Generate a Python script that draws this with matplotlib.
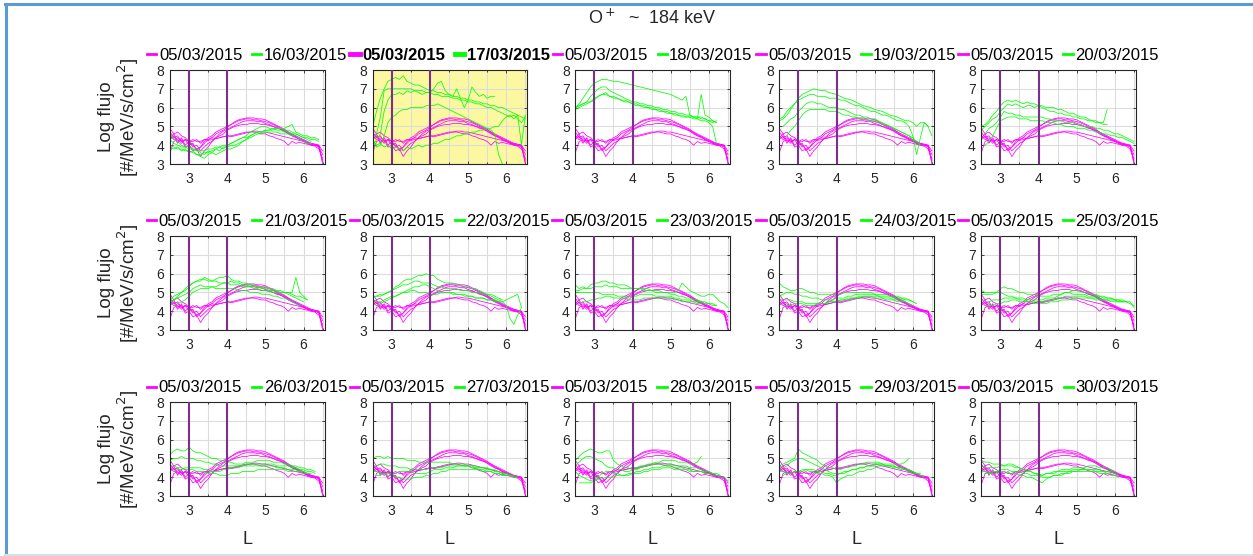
"""
Flujo de O+ (~184 keV) vs L: día de referencia 05/03/2015 frente a cada día de la tormenta.
"""
import numpy as np
import matplotlib
matplotlib.use("Agg")
import matplotlib.pyplot as plt
from matplotlib.lines import Line2D
from matplotlib.ticker import MultipleLocator

plt.rcParams["font.family"] = ["Liberation Sans", "DejaVu Sans"]

# ── datos ─────────────────────────────────────────────────────────────────────

# malla en L (paso 0.1) sobre la que están muestreadas las pasadas
L_GRID = np.round(np.arange(2.5, 6.55, 0.1), 1)

REF_DATE = "05/03/2015"
STORM_DATES = ["16/03/2015", "17/03/2015", "18/03/2015", "19/03/2015", "20/03/2015",
               "21/03/2015", "22/03/2015", "23/03/2015", "24/03/2015", "25/03/2015",
               "26/03/2015", "27/03/2015", "28/03/2015", "29/03/2015", "30/03/2015"]
HIGHLIGHT = 1  # panel resaltado (17/03)

# log flujo del día de referencia (se repite en todos los paneles)
REF_FLUX = [
    [4.7, 4.4, 4.5, 4.2, 4.3, 4.0, 4.1, 3.7, 3.9, 4.1, 4.3, 4.4, 4.6, 4.7, 4.8, 4.95, 5.1, 5.25, 5.35, 5.4,
     5.45, 5.45, 5.45, 5.4, 5.4, 5.35, 5.25, 5.15, 5.05, 4.95, 4.85, 4.7, 4.55, 4.45, 4.35, 4.25, 4.15, 4.05, 4.0, 4.0, 3.0],
    [4.4, 4.6, 4.2, 4.3, 3.9, 4.0, 3.7, 3.8, 3.4, 3.7, 3.9, 4.2, 4.4, 4.6, 4.75, 4.85, 4.95, 5.05, 5.15, 5.25,
     5.3, 5.3, 5.3, 5.25, 5.25, 5.15, 5.1, 5.0, 4.95, 4.85, 4.75, 4.6, 4.5, 4.4, 4.3, 4.2, 4.1, 4.0, 4.0, 3.9, 3.2],
    [4.3, 4.5, 4.1, 4.4, 4.0, 4.2, 3.9, 4.0, 3.7, 3.9, 4.1, 4.2, 4.4, 4.5, 4.6, 4.8, 4.9, 5.0, 5.05, 5.1,
     5.1, 5.15, 5.15, 5.15, 5.1, 5.1, 5.05, 5.0, 4.9, 4.85, 4.75, 4.65, 4.5, 4.45, 4.3, 4.25, 4.1, 4.05, 4.0, 3.95, 3.5],
    [4.5, 4.3, 4.4, 4.2, 4.3, 4.2, 4.3, 4.2, 4.2, 4.3, 4.25, 4.3, 4.35, 4.4, 4.45, 4.5, 4.5, 4.55, 4.6, 4.65,
     4.7, 4.7, 4.75, 4.75, 4.7, 4.7, 4.65, 4.6, 4.55, 4.5, 4.45, 4.4, 4.35, 4.3, 4.25, 4.2, 4.15, 4.1, 4.05, 4.0, 3.7],
    [3.6, 4.2, 4.3, 4.1, 4.3, 4.2, 4.2, 4.3, 4.1, 4.3, 4.3, 4.4, 4.35, 4.4, 4.45, 4.5, 4.45, 4.5, 4.55, 4.6,
     4.65, 4.7, 4.7, 4.65, 4.6, 4.6, 4.5, 4.45, 4.35, 4.3, 4.2, 4.0, 4.2, 4.1, 4.15, 4.1, 4.05, 4.0, 3.95, 3.8, 3.3],
    [4.9, 4.6, 4.7, 4.5, 4.4, 4.2, 4.0, 3.8, 3.9, 4.2, 4.4, 4.5, 4.7, 4.8, 4.9, 5.0, 5.1, 5.2, 5.3, 5.35,
     5.4, 5.4, 5.35, 5.35, 5.3, 5.25, 5.2, 5.1, 5.0, 4.9, 4.8, 4.7, 4.6, 4.5, 4.4, 4.3, 4.2, 4.1, 4.05, 4.0, 3.1],
]

# log flujo de cada día de tormenta (None = sin dato)
FLUX_16 = [
    [4.6, 4.3, 4.2, 4.0, 3.9, 4.0, 3.8, 3.8, 3.6, 3.5, 3.7, 3.6, 3.8, 3.9, 3.8, 4.0, 4.1, 4.2, 4.3, 4.4,
     4.5, 4.7, 4.8, 4.9, 5.0, 5.0, 4.9, 4.9, 4.8, 4.8, 4.7, 4.7, 4.6, 4.6, 4.5, 4.4, 4.4, 4.3, 4.3, 4.2],
    [3.9, 3.8, 3.9, 3.7, 3.8, 3.6, 3.7, 3.5, 3.5, 3.6, 3.6, 3.7, 3.8, 3.7, 3.9, 3.9, 4.0, 4.0, 4.1, 4.2,
     4.3, 4.5, 4.6, 4.7, 4.7, 4.8, 4.8, 4.8, 4.9, 4.9, 4.9, 5.0, 5.1, 4.7, 4.6, 4.5, 4.5, 4.4, 4.4, 4.3],
    [4.0, 3.9, 3.8, 3.8, 3.7, 3.7, 3.6, 3.5, 3.4, 3.3, 3.5, 3.6, 3.5, 3.6, 3.7, 3.8, 3.8, 3.9, 4.0, 4.2,
     4.3, 4.4, 4.5, 4.6, 4.6, 4.7, 4.7, 4.7, 4.7, 4.6, 4.6, 4.6, 4.5, 4.5, 4.3, 4.2, 4.1, 4.1],
    [4.3, 4.1, 4.0, 3.9, 3.9, 3.8, 3.8, 3.7, 3.7, 3.7, 3.8, 3.8, 3.9, 3.9, 4.0, 4.0, 4.1, 4.2, 4.3, 4.4,
     4.4, 4.5, 4.6, 4.7, 4.7, 4.8, 4.8, 4.9, 4.9, 4.9, 4.8, 4.8, 4.7, 4.6, 4.5, 4.4, 4.3, 4.2],
]
FLUX_17 = [
    [5.0, 5.8, 6.5, 7.0, 7.4, 7.5, 7.6, 7.5, 7.7, 7.4, 7.3, 7.2, 7.2, 7.1, 7.0, 6.9, 6.9, 6.8, 6.8, 6.7,
     6.7, 6.6, 6.6, 6.5, 6.5, 6.4, 6.4, 6.3, 6.3, 6.2, 6.2, 6.1, 6.1, 6.0, 6.0, 5.9, 5.8, 5.7, 5.6, 5.5, 5.4],
    [4.5, 4.6, 5.5, 6.9, 7.0, 7.0, 7.0, 7.0, 7.0, 7.0, 7.0, 6.9, 6.9, 6.9, 6.8, 6.8, 6.7, 6.7, 6.6, 6.6,
     6.6, 6.5, 6.5, 6.4, 6.4, 6.3, 6.3, 6.2, 6.2, 6.1, 6.0, 6.0, 5.9, 5.8, 5.7, 5.6, 5.5, 5.6, 5.4, 5.2, 5.5],
    [4.0, 4.3, 4.6, 5.8, 6.4, 6.7, 6.7, 6.8, 6.7, 6.9, 6.8, 6.9, 6.8, 6.7, 6.8, 6.8, 7.0, 7.3, 7.4, 6.9,
     6.7, 6.6, 7.0, 6.5, 6.0, 6.4, 7.1, 6.8, 6.6, 6.7, 6.5, 6.6, 6.6],
    [4.2, 3.9, 4.0, 4.5, 5.2, 5.5, 5.6, 5.8, 5.9, 5.9, 6.0, 6.0, 6.0, 6.0, 6.1, 6.1, 6.1, 6.2, 6.1, 6.0,
     5.9, 5.8, 5.7, 5.6, 5.5, 5.4, 5.3, 5.2, 5.1, 5.0, 4.9, 4.8, 4.6, 3.5, 3.0],
    [4.3, 4.0, 4.1, 3.9, 4.0, 3.8, 3.9, 3.8, 3.7, 3.9, 3.8, 3.9, 4.0, 3.9, 4.0, 4.0, 4.1, 4.1, 4.2, 4.3,
     4.3, 4.4, 4.5, 4.5, 4.6, 4.6, 4.7, 4.7, 4.8, 4.8, 4.9, 4.9, 5.0, 5.0, 5.3, 5.5, 5.6, 5.4, 5.6, 4.0, 5.6],
]
FLUX_18 = [
    [6.0, 6.2, 6.5, 6.8, 7.1, 7.3, 7.4, 7.5, 7.5, 7.45, 7.4, 7.4, 7.35, 7.3, 7.25, 7.2, 7.15, 7.1, 7.05, 7.0,
     6.95, 6.9, 6.85, 6.8, 6.75, 6.7, 6.6, 6.5, 6.4, 6.6, 5.6, 5.5, 5.5, 5.4, 5.4, 5.3, 5.2, 5.3],
    [6.0, 6.1, 6.2, 6.3, 6.6, 6.8, 7.0, 7.1, 7.1, 6.9, 6.8, 6.7, 6.6, 6.5, 6.4, 6.3, 6.3, 6.2, 6.2, 6.1,
     6.1, 6.0, 6.0, 5.9, 5.9, 5.8, 5.8, 5.7, 5.7, 5.6, 5.6, 5.5, 5.5, 5.5, 5.4, 5.3, 5.3, 5.2],
    [6.0, 6.1, 6.2, 6.3, 6.3, 6.4, 6.6, 6.7, 6.7, 6.6, 6.6, 6.5, 6.4, 6.4, 6.3, 6.2, 6.2, 6.1, 6.1, 6.0,
     6.0, 5.9, 5.9, 5.8, 5.8, 5.7, 5.7, 5.6, 5.6, 5.5, 5.5, 5.5, 5.4, 5.3, 5.3, 5.2, 5.0, 4.1],
    [5.9, 6.0, 6.1, 6.2, 6.3, 6.5, 6.6, 6.7, 6.8, 6.6, 6.5, 6.5, 6.4, 6.3, 6.3, 6.2, 6.1, 6.1, 6.0, 6.0,
     5.9, 5.9, 5.8, 5.8, 5.7, 5.7, 5.6, 5.6, 5.5, 5.5, 5.5, 5.4, 5.4, 6.7, 5.6, 5.5, 5.3, 5.2],
]
FLUX_19 = [
    [5.3, 5.4, 5.6, 5.9, 6.2, 6.5, 6.7, 6.8, 6.9, 7.0, 6.95, 6.9, 6.9, 6.8, 6.75, 6.7, 6.6, 6.5, 6.45, 6.4,
     6.3, 6.2, 6.1, 6.05, 6.0, 5.9, 5.85, 5.8, 5.7, 5.6, 5.55, 5.5, 5.4, 5.3, 5.3, 5.2, 5.0, 5.2, 5.2, 5.0, 4.5],
    [5.4, 5.5, 5.8, 6.0, 6.2, 6.4, 6.5, 6.6, 6.7, 6.7, 6.6, 6.6, 6.6, 6.5, 6.5, 6.5, 6.4, 6.4, 6.3, 6.2,
     6.1, 6.1, 6.0, 5.9, 5.8, 5.8, 5.7, 5.6, 5.6, 5.5, 5.4, 5.3, 5.3, 5.2, 5.0, 4.5, 3.5, 4.4, 5.2, 5.0],
    [None, 5.0, 5.2, 5.4, 5.5, 5.8, 6.0, 6.2, 6.3, 6.3, 6.2, 6.2, 6.1, 6.0, 6.0, 6.0, 5.9, 5.9, 5.8, 5.7,
     5.6, 5.6, 5.5, 5.5, 5.4, 5.4, 5.3, 5.2, 5.1, 5.0, 4.9, 4.8, 4.7, 4.6, 4.5, 4.4, 4.2, 4.0],
    [None, None, 4.5, 4.8, 5.0, 5.3, 5.6, 5.8, 5.9, 5.9, 5.9, 5.9, 5.9, 5.8, 5.8, 5.8, 5.7, 5.6, 5.6, 5.5,
     5.5, 5.4, 5.4, 5.3, 5.3, 5.3, 5.2, 5.1, 5.1, 5.0, 4.9, 4.8, 4.7, 4.6, 4.5, 4.3, 4.2],
]
FLUX_20 = [
    [5.0, 5.1, 5.3, 5.6, 5.8, 6.1, 6.3, 6.4, 6.3, 6.4, 6.3, 6.2, 6.3, 6.2, 6.2, 6.1, 6.1, 6.0, 6.0, 6.0,
     5.9, 5.9, 5.8, 5.7, 5.7, 5.6, 5.5, 5.5, 5.4, 5.3, 5.3, 5.2, 5.2, 5.9],
    [4.8, 5.0, 5.2, 5.4, 5.5, 5.8, 6.0, 6.2, 6.1, 6.2, 6.1, 6.0, 6.1, 6.1, 6.0, 6.1, 6.0, 5.9, 5.8, 5.8,
     5.7, 5.7, 5.6, 5.6, 5.5, 5.5, 5.4, 5.4, 5.3, 5.3, 5.2, 5.2, 5.1, 5.1],
    [None, 4.6, 4.9, 5.0, 5.2, 5.5, 5.8, 5.7, 5.7, 5.6, 5.6, 5.5, 5.5, 5.5, 5.5, 5.5, 5.5, 5.4, 5.4, 5.3,
     5.3, 5.3, 5.2, 5.2, 5.2, 5.1, 5.1, 5.0, 5.0, 5.0, 4.9, 4.9, 4.8, 4.8, 4.7, 4.6, 4.6, 4.5, 4.4, 4.3, 4.2],
    [None, 4.0, 4.2, 4.5, 4.9, 5.3, 5.4, 5.5, 5.5, 5.5, 5.4, 5.4, 5.4, 5.3, 5.3, 5.3, 5.3, 5.2, 5.2, 5.2,
     5.1, 5.1, 5.0, 5.0, 5.0, 4.9, 4.9, 4.9, 4.8, 4.8, 4.7, 4.7, 4.6, 4.6, 4.5, 4.5, 4.4, 4.4, 4.3, 4.2, 4.1],
]
FLUX_21 = [
    [4.5, 4.6, 4.8, 5.0, 5.1, 5.3, 5.5, 5.6, 5.6, 5.8, 5.7, 5.6, 5.7, 5.8, 5.8, 5.9, 5.7, 5.6, 5.6, 5.5,
     5.5, 5.4, 5.4, 5.3, 5.3, 5.3, 5.2, 5.2, 5.1, 5.1, 5.0, 5.0, 5.0, 5.8, 5.0, 4.8, 4.6],
    [4.6, 4.8, 4.9, 5.0, 5.2, 5.4, 5.5, 5.6, 5.7, 5.7, 5.6, 5.6, 5.6, 5.5, 5.5, 5.5, 5.4, 5.4, 5.4, 5.3,
     5.3, 5.3, 5.2, 5.2, 5.1, 5.1, 5.1, 5.0, 5.0, 5.0, 5.0, 4.9, 4.8, 4.7, 4.6, 4.5],
    [4.4, 4.6, 4.7, 4.8, 4.9, 5.0, 5.2, 5.3, 5.4, 5.3, 5.3, 5.3, 5.2, 5.2, 5.2, 5.2, 5.2, 5.2, 5.1, 5.1,
     5.1, 5.0, 5.0, 5.0, 4.9, 4.9, 4.9, 4.8, 4.8, 4.7, 4.7, 4.6, 4.5, 4.4, 4.3],
    [None, 4.3, 4.4, 4.5, 4.6, 4.8, 5.0, 5.1, 5.2, 5.2, 5.2, 5.3, 5.3, 5.4, 5.5, 5.5, 5.6, 5.5, 5.5, 5.4,
     5.4, 5.3, 5.3, 5.3, 5.2, 5.2, 5.1, 5.1, 5.1, 5.0, 5.0, 5.0, 4.9, 4.8, 4.8, 4.7, 4.6],
]
FLUX_22 = [
    [4.8, 4.8, 4.8, 4.9, 5.0, 5.1, 5.3, 5.4, 5.6, 5.7, 5.7, 5.8, 5.9, 5.9, 6.0, 5.9, 5.9, 5.7, 5.6, 5.5,
     5.5, 5.5, 5.4, 5.4, 5.3, 5.3, 5.2, 5.2, 5.1, 5.0, 4.9, 4.9, 4.8, 4.7, 4.6],
    [4.7, 4.8, 4.9, 4.9, 5.0, 5.1, 5.2, 5.3, 5.4, 5.4, 5.5, 5.6, 5.6, 5.5, 5.5, 5.5, 5.4, 5.3, 5.3, 5.2,
     5.2, 5.2, 5.2, 5.1, 5.1, 5.1, 5.0, 5.0, 5.0, 4.9, 4.9, 4.8, 4.7, 4.6, 4.5, 4.3, 3.6, 3.3, 3.8, 4.2],
    [4.5, 4.5, 4.5, 4.6, 4.7, 4.8, 4.8, 4.9, 5.0, 5.0, 5.1, 5.1, 5.0, 5.0, 5.0, 4.9, 4.9, 4.9, 5.0, 5.0,
     5.0, 5.0, 4.9, 4.9, 4.9, 4.8, 4.8, 4.7, 4.7, 4.7, 4.6, 4.6, 4.6, 4.5, 4.5, 4.6, 4.7, 4.8, 4.9, 4.2],
    [None, 4.3, 4.4, 4.5, 4.6, 4.7, 4.8, 4.9, 5.0, 5.1, 5.2, 5.3, 5.3, 5.4, 5.4, 5.3, 5.2, 5.1, 5.0, 5.0,
     5.0, 4.9, 4.9, 4.9, 4.8, 4.8, 4.8, 4.7, 4.7, 4.7, 4.6, 4.6, 4.5, 4.5],
]
FLUX_23 = [
    [5.4, 5.2, 5.3, 5.2, 5.4, 5.5, 5.5, 5.6, 5.6, 5.5, 5.5, 5.4, 5.4, 5.4, 5.3, 5.2, 5.2, 5.2, 5.2, 5.2,
     5.1, 5.1, 5.1, 5.0, 5.0, 5.0, 5.0, 5.1, 5.5, 5.3, 5.1, 5.0, 4.9, 4.8, 4.8, 4.9, 4.9, 4.7, 4.5, 4.4, 4.2],
    [5.1, 5.1, 5.2, 5.2, 5.2, 5.3, 5.3, 5.3, 5.4, 5.3, 5.3, 5.3, 5.2, 5.2, 5.2, 5.2, 5.2, 5.2, 5.1, 5.1,
     5.1, 5.0, 5.0, 5.0, 5.0, 4.9, 4.9, 4.8, 4.8, 4.7, 4.7, 4.6, 4.6, 4.5, 4.5, 4.4, 4.4, 4.3],
    [5.0, 5.0, 5.0, 5.0, 5.0, 5.0, 5.0, 4.9, 4.9, 4.9, 4.9, 4.8, 4.8, 4.8, 4.8, 4.8, 4.8, 4.9, 4.9, 4.9,
     4.9, 4.8, 4.8, 4.8, 4.8, 4.8, 4.7, 4.7, 4.6, 4.6, 4.6, 4.5, 4.5, 4.5, 4.4, 4.4, 4.3, 4.3],
    [None, 4.4, 4.5, 4.5, 4.6, 4.6, 4.7, 4.7, 4.8, 4.8, 4.7, 4.7, 4.7, 4.7, 4.6, 4.6, 4.6, 4.6, 4.7, 4.7,
     4.7, 4.7, 4.7, 4.7, 4.7, 4.7, 4.6, 4.6, 4.5, 4.5, 4.5, 4.5, 4.4, 4.4],
]
FLUX_24 = [
    [5.5, 5.3, 5.2, 5.1, 5.1, 5.2, 5.2, 5.1, 5.0, 5.0, 4.9, 4.9, 4.9, 4.9, 4.9, 4.9, 4.9, 5.0, 5.0, 5.0,
     5.0, 5.0, 5.0, 5.0, 5.0, 4.9, 4.9, 4.9, 4.9, 4.8, 4.8, 4.8, 4.7, 4.7, 4.6, 4.5, 4.4],
    [4.8, 4.9, 5.0, 5.0, 4.9, 4.9, 4.8, 4.8, 4.7, 4.7, 4.7, 4.6, 4.6, 4.6, 4.6, 4.7, 4.7, 4.7, 4.8, 4.8,
     4.9, 4.9, 4.9, 4.9, 4.9, 4.9, 4.8, 4.8, 4.8, 4.8, 4.7, 4.7, 4.7, 4.6, 4.6, 4.5],
    [4.6, 4.6, 4.6, 4.6, 4.5, 4.5, 4.5, 4.4, 4.4, 4.4, 4.4, 4.4, 4.4, 4.5, 4.5, 4.5, 4.6, 4.6, 4.7, 4.7,
     4.7, 4.8, 4.8, 4.8, 4.8, 4.7, 4.7, 4.7, 4.6, 4.6, 4.6, 4.5, 4.5, 4.5, 4.4, 4.3],
    [None, 4.2, 4.3, 4.3, 4.4, 4.4, 4.4, 4.3, 4.3, 4.3, 4.4, 4.4, 4.4, 4.5, 4.5, 4.5, 4.6, 4.6, 4.6, 4.7,
     4.7, 4.7, 4.8, 4.8, 4.8, 4.8, 4.8, 4.7, 4.7, 4.7, 4.6, 4.6, 4.6, 4.6],
]
FLUX_25 = [
    [5.1, 5.0, 5.0, 5.0, 5.0, 5.2, 5.3, 5.2, 5.2, 5.1, 5.0, 5.0, 4.9, 4.9, 4.9, 4.8, 4.8, 4.8, 4.8, 4.9,
     4.9, 4.9, 5.0, 5.0, 4.9, 4.9, 4.9, 4.9, 4.8, 4.8, 4.8, 4.8, 4.7, 4.7, 4.7, 4.6, 4.6, 4.6, 4.5, 4.5, 4.2],
    [4.9, 4.9, 4.9, 4.9, 5.0, 5.0, 4.9, 4.8, 4.8, 4.7, 4.6, 4.6, 4.5, 4.5, 4.5, 4.5, 4.5, 4.6, 4.6, 4.6,
     4.7, 4.7, 4.8, 4.8, 4.8, 4.8, 4.8, 4.8, 4.7, 4.7, 4.7, 4.7, 4.6, 4.6, 4.6, 4.6, 4.5, 4.5, 4.5, 4.4, 4.3],
    [None, 4.5, 4.5, 4.6, 4.6, 4.6, 4.7, 4.7, 4.7, 4.7, 4.7, 4.7, 4.6, 4.6, 4.6, 4.6, 4.6, 4.7, 4.7, 4.7,
     4.8, 4.9, 5.0, 5.0, 5.1, 5.1, 5.1, 5.0, 5.0, 4.9, 4.9, 4.8, 4.8, 4.7, 4.7, 4.6, 4.6, 4.5, 4.5],
    [None, 4.2, 4.3, 4.3, 4.4, 4.4, 4.5, 4.5, 4.6, 4.6, 4.5, 4.5, 4.5, 4.5, 4.4, 4.4, 4.4, 4.4, 4.5, 4.5,
     4.5, 4.6, 4.6, 4.6, 4.7, 4.7, 4.7, 4.7, 4.7, 4.7, 4.6, 4.6, 4.6, 4.6, 4.5, 4.5, 4.5, 4.5],
]
FLUX_26 = [
    [5.2, 5.4, 5.5, 5.4, 5.4, 5.6, 5.4, 5.3, 5.3, 5.2, 5.1, 5.0, 5.0, 4.9, 4.9, 4.8, 4.8, 4.7, 4.7, 4.7,
     4.8, 4.8, 4.8, 4.9, 4.9, 4.9, 4.9, 4.8, 4.8, 4.8, 4.7, 4.7, 4.6, 4.6, 4.5, 4.5, 4.4, 4.4, 4.3],
    [4.9, 5.0, 5.0, 5.1, 5.0, 5.0, 5.0, 4.9, 4.9, 4.8, 4.8, 4.7, 4.7, 4.6, 4.6, 4.6, 4.6, 4.6, 4.6, 4.6,
     4.7, 4.7, 4.7, 4.7, 4.7, 4.7, 4.7, 4.7, 4.6, 4.6, 4.6, 4.6, 4.5, 4.5, 4.4, 4.4, 4.3, 4.3, 4.2],
    [4.6, 4.6, 4.5, 4.5, 4.4, 4.4, 4.4, 4.3, 4.3, 4.3, 4.2, 4.2, 4.2, 4.1, 4.1, 4.1, 4.2, 4.2, 4.2, 4.3,
     4.3, 4.3, 4.3, 4.4, 4.4, 4.4, 4.4, 4.4, 4.4, 4.4, 4.4, 4.3, 4.3, 4.3, 4.3, 4.2, 4.2, 4.2],
    [None, 4.3, 4.4, 4.4, 4.5, 4.5, 4.5, 4.5, 4.5, 4.4, 4.4, 4.3, 4.3, 4.3, 4.4, 4.4, 4.5, 4.5, 4.5, 4.6,
     4.6, 4.6, 4.6, 4.6, 4.6, 4.6, 4.6, 4.6, 4.5, 4.5, 4.5, 4.4, 4.4, 4.4, 4.3, 4.3, 4.2],
]
FLUX_27 = [
    [5.0, 5.1, 5.1, 5.0, 5.1, 5.0, 5.0, 5.0, 5.0, 4.9, 4.9, 4.9, 4.8, 4.8, 4.8, 4.8, 4.8, 4.8, 4.8, 4.8,
     4.8, 4.7, 4.7, 4.7, 4.7, 4.6, 4.6, 4.6, 4.5, 4.5, 4.5, 4.4, 4.4, 4.3, 4.2, 4.2, 4.1, 4.1],
    [4.6, 4.6, 4.7, 4.7, 4.6, 4.6, 4.6, 4.5, 4.5, 4.5, 4.4, 4.4, 4.4, 4.4, 4.4, 4.5, 4.5, 4.5, 4.5, 4.6,
     4.6, 4.6, 4.6, 4.6, 4.6, 4.6, 4.6, 4.5, 4.5, 4.5, 4.4, 4.4, 4.3, 4.3, 4.2, 4.1, 4.1, 4.0, 4.0],
    [4.3, 4.3, 4.2, 4.2, 4.1, 4.1, 4.0, 4.0, 3.9, 3.9, 3.9, 4.0, 4.0, 4.0, 4.1, 4.1, 4.2, 4.2, 4.3, 4.3,
     4.4, 4.4, 4.4, 4.4, 4.4, 4.4, 4.4, 4.4, 4.4, 4.3, 4.3, 4.3, 4.2, 4.2, 4.1, 4.1, 4.1, 4.0, 4.0],
    [None, 4.1, 4.1, 4.2, 4.2, 4.2, 4.2, 4.3, 4.3, 4.3, 4.3, 4.2, 4.2, 4.2, 4.2, 4.3, 4.4, 4.4, 4.4, 4.5,
     4.5, 4.5, 4.6, 4.6, 4.6, 4.6, 4.5, 4.5, 4.4, 4.4, 4.3, 4.3, 4.2, 4.2, 4.1, 4.1],
]
FLUX_28 = [
    [4.9, 5.1, 5.3, 5.4, 5.5, 5.4, 5.3, 5.3, 5.4, 5.4, 4.9, 4.7, 4.6, 4.5, 4.5, 4.4, 4.5, 4.6, 4.6, 4.7,
     4.7, 4.8, 4.8, 4.9, 4.9, 4.9, 4.9, 4.8, 4.8, 4.8, 4.7, 4.7, 4.8, 5.1],
    [4.6, 4.8, 5.0, 5.1, 5.1, 5.0, 4.9, 4.8, 4.6, 4.5, 4.5, 4.4, 4.4, 4.3, 4.3, 4.4, 4.4, 4.5, 4.6, 4.6,
     4.7, 4.7, 4.7, 4.7, 4.7, 4.7, 4.6, 4.6, 4.6, 4.6, 4.5, 4.5, 4.5, 4.4, 4.3, 4.3, 4.2, 4.2, 4.1],
    [4.3, 4.1, 4.0, 3.9, 3.8, 3.9, 4.0, 4.2, 4.3, 4.3, 4.2, 4.2, 4.1, 4.1, 4.1, 4.2, 4.2, 4.2, 4.3, 4.3,
     4.4, 4.4, 4.4, 4.5, 4.5, 4.5, 4.4, 4.4, 4.4, 4.4, 4.3, 4.3, 4.3, 4.3, 4.2, 4.2, 4.1, 4.1, 4.0, 4.0, 3.8],
    [None, 3.7, 3.7, 3.7, 3.7, 3.8, 3.9, 3.9, 4.0, 4.0, 4.0, 4.1, 4.1, 4.1, 4.2, 4.2, 4.3, 4.3, 4.4, 4.4,
     4.5, 4.5, 4.5, 4.6, 4.6, 4.6, 4.5, 4.5, 4.5, 4.4, 4.4, 4.3, 4.3, 4.3, 4.2, 4.2],
]
FLUX_29 = [
    [4.6, 4.7, 4.8, 4.9, 5.0, 5.5, 5.3, 5.2, 5.1, 5.0, 4.9, 4.7, 4.6, 4.5, 4.5, 4.4, 4.4, 4.5, 4.5, 4.6,
     4.6, 4.7, 4.7, 4.8, 4.8, 4.8, 4.8, 4.7, 4.7, 4.7, 4.7, 4.7, 4.7, 4.8, 5.0],
    [4.5, 4.5, 4.6, 4.8, 4.9, 5.0, 5.0, 4.9, 4.8, 4.7, 4.6, 4.5, 4.4, 4.3, 4.2, 4.2, 4.2, 4.3, 4.3, 4.4,
     4.4, 4.5, 4.5, 4.6, 4.6, 4.7, 4.7, 4.7, 4.6, 4.6, 4.6, 4.5, 4.5, 4.4, 4.4, 4.3, 4.2, 4.1],
    [4.3, 4.3, 4.2, 4.2, 4.3, 4.3, 4.4, 4.4, 4.3, 4.3, 4.2, 4.2, 4.1, 4.1, 4.0, 3.7, 3.9, 4.0, 4.1, 4.1,
     4.2, 4.3, 4.3, 4.4, 4.4, 4.5, 4.6, 4.6, 4.6, 4.6, 4.5, 4.5, 4.4, 4.4, 4.3, 4.2, 4.2, 4.1, 4.0],
    [None, 4.1, 4.2, 4.2, 4.3, 4.3, 4.3, 4.4, 4.4, 4.4, 4.3, 4.3, 4.2, 4.2, 4.1, 4.1, 4.2, 4.2, 4.3, 4.4,
     4.4, 4.5, 4.5, 4.6, 4.6, 4.7, 4.7, 4.7, 4.6, 4.6, 4.6, 4.5, 4.5, 4.4, 4.4, 4.3, 4.2, 4.2],
]
FLUX_30 = [
    [4.9, 4.8, 4.8, 4.7, 4.7, 4.7, 4.6, 4.6, 4.6, 4.5, 4.5, 4.4, 4.4, 4.3, 4.2, 4.1, 4.1, 4.2, 4.2, 4.3,
     4.3, 4.4, 4.4, 4.4, 4.5, 4.5, 4.5, 4.5, 4.6, 4.6, 4.6, 4.5, 4.5, 4.5, 4.4, 4.3],
    [4.6, 4.5, 4.5, 4.5, 4.5, 4.6, 4.6, 4.7, 4.7, 4.6, 4.5, 4.4, 4.3, 4.3, 4.2, 4.2, 4.1, 4.2, 4.2, 4.2,
     4.3, 4.3, 4.3, 4.3, 4.4, 4.4, 4.4, 4.4, 4.4, 4.4, 4.4, 4.4, 4.3, 4.3, 4.3, 4.2, 4.1],
    [4.3, 4.3, 4.2, 4.2, 4.2, 4.3, 4.3, 4.2, 4.2, 4.2, 4.1, 4.1, 4.0, 4.0, 3.9, 3.8, 3.7, 3.9, 4.0, 4.1,
     4.1, 4.2, 4.2, 4.3, 4.3, 4.3, 4.3, 4.3, 4.3, 4.3, 4.3, 4.2, 4.2, 4.2, 4.1, 4.1, 4.0],
    [None, 4.2, 4.2, 4.3, 4.3, 4.4, 4.4, 4.4, 4.3, 4.3, 4.3, 4.2, 4.2, 4.1, 4.1, 4.1, 4.0, 4.0, 4.0, 4.1,
     4.1, 4.1, 4.2, 4.2, 4.3, 4.3, 4.4, 4.4, 4.4, 4.4, 4.3, 4.3, 4.3, 4.2, 4.2],
]

DAY_FLUX = [FLUX_16, FLUX_17, FLUX_18, FLUX_19, FLUX_20,
            FLUX_21, FLUX_22, FLUX_23, FLUX_24, FLUX_25,
            FLUX_26, FLUX_27, FLUX_28, FLUX_29, FLUX_30]

L_MARKS = [3, 4]  # límites marcados en cada panel

# ── estilo ────────────────────────────────────────────────────────────────────

MAGENTA = "#FF00FF"
GREEN = "#00FF00"
PURPLE = "#7E2F8E"
TEXT = "#262626"
W, H = 1253, 556
COL_X = [170, 372.7, 575.3, 779.3, 981.3]
ROW_Y = [70, 236, 402]
AX_W, AX_H = 154.5, 94


def _curve(vals):
    y = np.array([np.nan if v is None else v for v in vals], dtype=float)
    return L_GRID[:len(y)], y


fig = plt.figure(figsize=(W / 100, H / 100), dpi=100)
fig.patch.set_facecolor("white")

axes = []
for k in range(15):
    r, c = divmod(k, 5)
    ax = fig.add_axes([COL_X[c] / W, 1 - (ROW_Y[r] + AX_H) / H, AX_W / W, AX_H / H])
    axes.append(ax)
    if k == HIGHLIGHT:
        ax.set_facecolor("#FCF8A2")

    for vals in REF_FLUX:
        ax.plot(*_curve(vals), color=MAGENTA, lw=0.55)
    for vals in DAY_FLUX[k]:
        ax.plot(*_curve(vals), color=GREEN, lw=0.55)
    for lm in L_MARKS:
        ax.axvline(lm, color=PURPLE, lw=1.5, zorder=5)

    ax.set_xlim(2.5, 6.55)
    ax.set_ylim(3, 8)
    ax.set_xticks([3, 4, 5, 6])
    ax.xaxis.set_minor_locator(MultipleLocator(0.5))
    ax.set_yticks([3, 4, 5, 6, 7, 8])
    ax.grid(True, which="both", color="#dcdcdc", lw=0.8)
    ax.set_axisbelow(True)
    ax.tick_params(which="both", direction="in", top=True, right=True, length=2.5,
                   width=0.6, colors=TEXT, labelsize=10)
    ax.tick_params(axis="x", pad=6)
    ax.tick_params(axis="y", pad=4)
    ax.tick_params(which="minor", length=1.5)
    for sp in ax.spines.values():
        sp.set_color(TEXT)
        sp.set_linewidth(0.8)

    bold = k == HIGHLIGHT
    handles = [Line2D([], [], color=MAGENTA, lw=3.5 if bold else 2),
               Line2D([], [], color=GREEN, lw=3.5 if bold else 2)]
    ax.legend(handles, [REF_DATE, STORM_DATES[k]], loc="lower center",
              bbox_to_anchor=(0.5, 1.0), ncol=2, frameon=False,
              handlelength=0.55, handletextpad=0.15, columnspacing=0.6,
              borderaxespad=0.3, borderpad=0.1,
              prop={"size": 12, "weight": "bold" if bold else "normal"})

    if c == 0:
        ax.set_ylabel("Log flujo\n[#/MeV/s/cm$^2$]", fontsize=13.5, color=TEXT,
                      labelpad=11, linespacing=1.05)
    if r == 2:
        ax.set_xlabel("L", fontsize=13, color=TEXT, labelpad=9)

axes[2].set_title("O$^+$  ~  184 keV", fontsize=13, color=TEXT, pad=33)

# marco de la ventana
fig.add_artist(Line2D([5 / W, 1], [1 - 3.5 / H, 1 - 3.5 / H], transform=fig.transFigure,
                      color="#5B9BD5", lw=2.2))
fig.add_artist(Line2D([5.5 / W, 5.5 / W], [1 - 3.5 / H, 1 - 554 / H], transform=fig.transFigure,
                      color="#5B9BD5", lw=2.2))
fig.add_artist(Line2D([5 / W, 1], [1 - 554.5 / H, 1 - 554.5 / H], transform=fig.transFigure,
                      color="#D6DEE8", lw=1.5))

fig.savefig("out.png", dpi=100, facecolor=fig.get_facecolor())
